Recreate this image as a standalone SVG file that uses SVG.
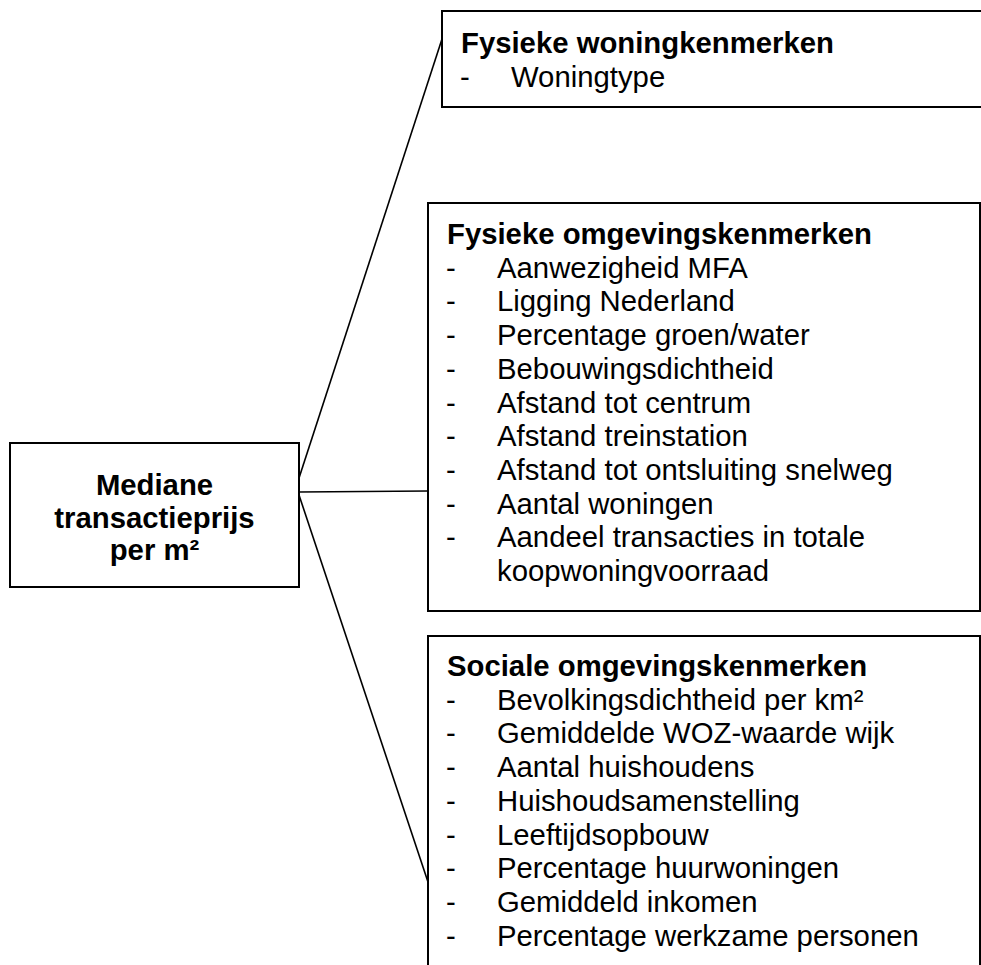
<svg xmlns="http://www.w3.org/2000/svg" width="981" height="965" viewBox="0 0 981 965">
  <style>
    .box { fill: #ffffff; stroke: #000000; stroke-width: 2; }
    .link { fill: none; stroke: #000000; stroke-width: 1.6; }
    text { font-family: "Liberation Sans", Arial, sans-serif; font-size: 29.3px; fill: #000000; }
    .head { font-weight: bold; }
    .center { text-anchor: middle; }
  </style>
  <rect width="981" height="965" fill="#ffffff"/>

  <!-- connectors from the central node to the three groups -->
  <g id="connectors">
    <line class="link" x1="299" y1="478" x2="442" y2="39"/>
    <line class="link" x1="299" y1="492" x2="428" y2="491"/>
    <line class="link" x1="299" y1="495" x2="428" y2="882"/>
  </g>

  <g id="node-prijs">
    <rect class="box" x="10" y="443" width="289" height="144"/>
    <text class="head center" x="154.5" y="495">Mediane</text>
    <text class="head center" x="154.5" y="527.5">transactieprijs</text>
    <text class="head center" x="154.5" y="560">per m²</text>
  </g>

  <g id="node-woning">
    <rect class="box" x="442" y="11" width="600" height="96"/>
    <text class="head" x="461" y="53">Fysieke woningkenmerken</text>
    <text x="460" y="87">-</text><text x="511" y="87">Woningtype</text>
  </g>

  <g id="node-fysiek">
    <rect class="box" x="428" y="203" width="552" height="408"/>
    <text class="head" x="447" y="244">Fysieke omgevingskenmerken</text>
    <text x="446" y="277.7">-</text><text x="497" y="277.7">Aanwezigheid MFA</text>
    <text x="446" y="311.4">-</text><text x="497" y="311.4">Ligging Nederland</text>
    <text x="446" y="345.1">-</text><text x="497" y="345.1">Percentage groen/water</text>
    <text x="446" y="378.8">-</text><text x="497" y="378.8">Bebouwingsdichtheid</text>
    <text x="446" y="412.5">-</text><text x="497" y="412.5">Afstand tot centrum</text>
    <text x="446" y="446.2">-</text><text x="497" y="446.2">Afstand treinstation</text>
    <text x="446" y="479.9">-</text><text x="497" y="479.9">Afstand tot ontsluiting snelweg</text>
    <text x="446" y="513.6">-</text><text x="497" y="513.6">Aantal woningen</text>
    <text x="446" y="547.3">-</text><text x="497" y="547.3">Aandeel transacties in totale</text>
    <text x="497" y="581">koopwoningvoorraad</text>
  </g>

  <g id="node-sociaal">
    <rect class="box" x="428" y="636" width="552" height="400"/>
    <text class="head" x="447" y="676">Sociale omgevingskenmerken</text>
    <text x="446" y="709.7">-</text><text x="497" y="709.7">Bevolkingsdichtheid per km²</text>
    <text x="446" y="743.4">-</text><text x="497" y="743.4">Gemiddelde WOZ-waarde wijk</text>
    <text x="446" y="777.1">-</text><text x="497" y="777.1">Aantal huishoudens</text>
    <text x="446" y="810.8">-</text><text x="497" y="810.8">Huishoudsamenstelling</text>
    <text x="446" y="844.5">-</text><text x="497" y="844.5">Leeftijdsopbouw</text>
    <text x="446" y="878.2">-</text><text x="497" y="878.2">Percentage huurwoningen</text>
    <text x="446" y="911.9">-</text><text x="497" y="911.9">Gemiddeld inkomen</text>
    <text x="446" y="945.6">-</text><text x="497" y="945.6">Percentage werkzame personen</text>
  </g>
</svg>
